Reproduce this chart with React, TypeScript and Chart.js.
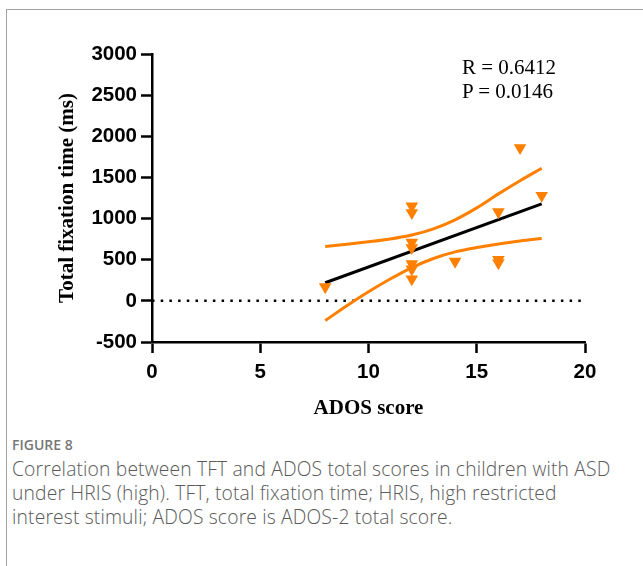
import React, { useEffect, useRef } from "react";
import { Chart, registerables } from "chart.js";

Chart.register(...registerables);

// Scatter points (ADOS score, total fixation time ms)
const adosScores = [8, 12, 12, 12, 12, 12, 12, 12, 14, 16, 16, 16, 17, 18];
const fixationTimes = [170, 1150, 1070, 710, 645, 450, 385, 265, 480, 1080, 500, 460, 1860, 1280];

// Regression line endpoints
const fitX = [8, 18];
const fitY = [220, 1178];

// 95% confidence band
const bandX = [8, 9, 10, 11, 12, 13, 14, 15, 16, 17, 18];
const bandUpper = [660, 688, 718, 752, 800, 875, 985, 1130, 1300, 1460, 1612];
const bandLower = [-240, -60, 110, 265, 405, 515, 595, 648, 690, 728, 758];

// Reference (zero) line
const zeroX = [0, 20];
const zeroY = [0, 0];

const xTicks = [0, 5, 10, 15, 20];
const yTicks = [-500, 0, 500, 1000, 1500, 2000, 2500, 3000];

const statLines = ["R = 0.6412", "P = 0.0146"];

const ORANGE = "#FF8000";
const pts = (xs: number[], ys: number[]) => xs.map((x, i) => ({ x, y: ys[i] }));

export default function App() {
  const ref = useRef<HTMLCanvasElement | null>(null);

  useEffect(() => {
    document.body.style.margin = "0";
    const ctx = ref.current!.getContext("2d")!;
    const tickFont = { family: "'Liberation Sans', Arial, sans-serif", size: 20.5, weight: "bold" as const };
    const titleFont = { family: "'Liberation Serif', 'Times New Roman', serif", size: 21, weight: "bold" as const };
    const chart = new Chart(ctx, {
      type: "scatter",
      data: {
        datasets: [
          {
            type: "scatter",
            data: pts(adosScores, fixationTimes),
            pointStyle: "triangle",
            rotation: 180,
            pointRadius: 7.3,
            backgroundColor: ORANGE,
            borderColor: ORANGE,
            borderWidth: 0,
            order: 0,
          } as any,
          {
            type: "line",
            data: pts(fitX, fitY),
            borderColor: "#000",
            borderWidth: 3,
            pointRadius: 0,
            order: 1,
          },
          {
            type: "line",
            data: pts(bandX, bandUpper),
            borderColor: ORANGE,
            borderWidth: 3,
            pointRadius: 0,
            cubicInterpolationMode: "monotone",
            order: 2,
          },
          {
            type: "line",
            data: pts(bandX, bandLower),
            borderColor: ORANGE,
            borderWidth: 3,
            pointRadius: 0,
            cubicInterpolationMode: "monotone",
            order: 2,
          },
          {
            type: "line",
            data: pts(zeroX, zeroY),
            borderColor: "#000",
            borderWidth: 2.5,
            borderDash: [2.5, 6.2],
            pointRadius: 0,
            order: 3,
          },
        ],
      },
      options: {
        animation: false,
        responsive: false,
        maintainAspectRatio: false,
        layout: { padding: { left: 0, top: 54, right: 58, bottom: 0 } },
        plugins: { legend: { display: false }, tooltip: { enabled: false } },
        scales: {
          x: {
            type: "linear",
            min: 0,
            max: 20,
            afterBuildTicks: (s: any) => {
              s.ticks = xTicks.map((v) => ({ value: v }));
            },
            afterFit: (s: any) => {
              s.height = 88;
            },
            ticks: {
              autoSkip: false,
              maxRotation: 0,
              color: "#000",
              font: tickFont,
              padding: 7,
              callback: (v: any) => String(v),
            },
            grid: {
              display: true,
              drawOnChartArea: false,
              drawTicks: true,
              tickLength: 11,
              tickWidth: 2.5,
              color: "#000",
            },
            border: { display: true, color: "#000", width: 2.5 },
            title: {
              display: true,
              text: "ADOS score",
              color: "#000",
              font: titleFont,
              padding: { top: 0, bottom: 9 },
            },
          },
          y: {
            type: "linear",
            min: -500,
            max: 3000,
            afterBuildTicks: (s: any) => {
              s.ticks = yTicks.map((v) => ({ value: v }));
            },
            afterFit: (s: any) => {
              s.width = 152;
            },
            ticks: {
              autoSkip: false,
              color: "#000",
              font: tickFont,
              padding: 4,
              callback: (v: any) => String(v),
            },
            grid: {
              display: true,
              drawOnChartArea: false,
              drawTicks: true,
              tickLength: 11,
              tickWidth: 2.5,
              color: "#000",
            },
            border: { display: true, color: "#000", width: 2.5 },
            title: {
              display: true,
              text: "Total fixation time (ms)",
              color: "#000",
              font: titleFont,
              padding: { top: 55, bottom: 0 },
            },
          },
        },
      },
    });
    return () => chart.destroy();
  }, []);

  return (
    <div style={{ position: "relative", width: 643, height: 566, overflow: "hidden", background: "#fff" }}>
      <div
        style={{
          position: "absolute",
          left: 6,
          top: 9,
          width: 700,
          height: 600,
          borderLeft: "1px solid #a0a0a0",
          borderTop: "1px solid #a0a0a0",
        }}
      />
      <canvas ref={ref} width={643} height={430} style={{ position: "absolute", left: 0, top: 0, width: 643, height: 430 }} />
      <div
        style={{
          position: "absolute",
          left: 462,
          top: 55,
          fontFamily: "'Liberation Serif', 'Times New Roman', serif",
          fontSize: 21,
          lineHeight: "24px",
          color: "#000",
          whiteSpace: "nowrap",
        }}
      >
        {statLines.map((s) => (
          <div key={s}>{s}</div>
        ))}
      </div>
      <div
        style={{
          position: "absolute",
          left: 12,
          top: 435,
          fontFamily: "'Open Sans', sans-serif",
          fontSize: 14,
          fontWeight: 600,
          color: "#777",
          lineHeight: "20px",
        }}
      >
        FIGURE 8
      </div>
      <div
        style={{
          position: "absolute",
          left: 12,
          top: 457,
          fontFamily: "'Open Sans', sans-serif",
          fontSize: 19.3,
          fontWeight: 300,
          color: "#5a5a5a",
          lineHeight: "24px",
          letterSpacing: 0.15,
          whiteSpace: "nowrap",
        }}
      >
        Correlation between TFT and ADOS total scores in children with ASD
        <br />
        under HRIS (high). TFT, total fixation time; HRIS, high restricted
        <br />
        interest stimuli; ADOS score is ADOS-2 total score.
      </div>
    </div>
  );
}
